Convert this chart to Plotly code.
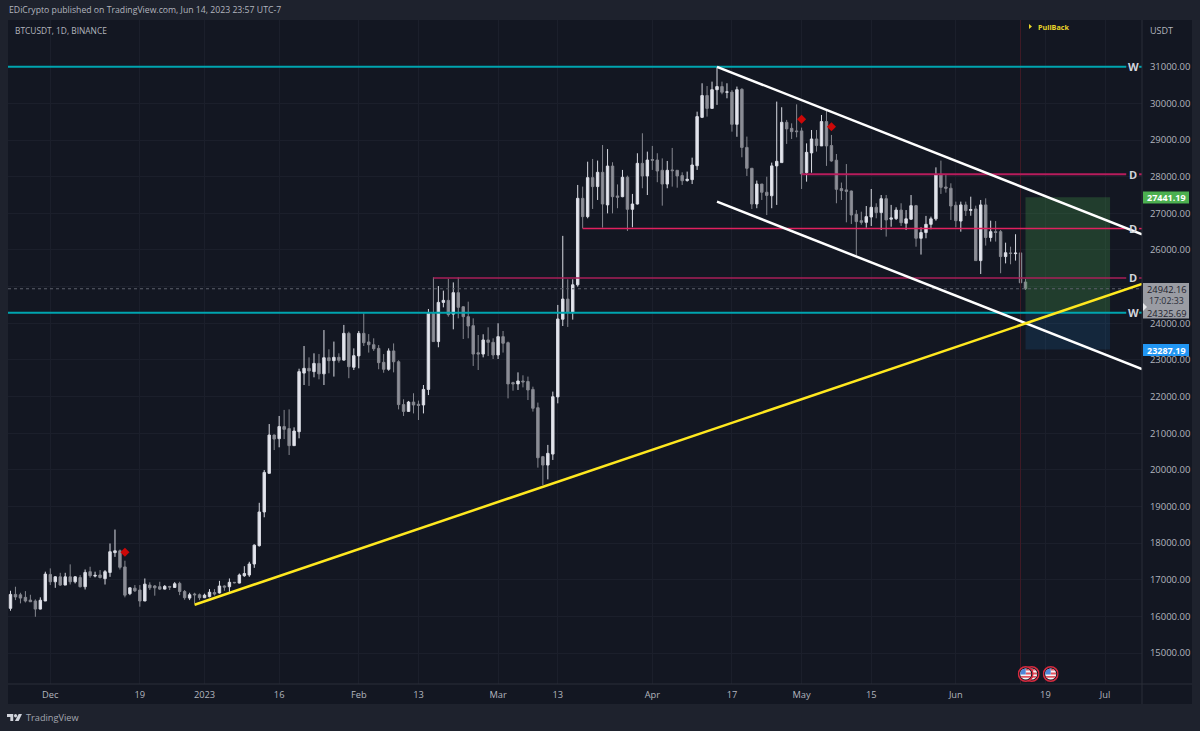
import base64
import pandas as pd
import plotly.graph_objects as go

# Daily BTCUSDT candles, 23 Nov 2022 to 15 Jun 2023, grouped Nov / Dec / Jan ... / Jun
opens = [
    16220,16600,16590,16520,16445,16420,16200,16420,
    17145,16945,17080,16855,17080,16945,17060,16810,17220,17100,17130,17030,17200,17740,17790,17350,16620,16770,16720,16420,16855,16830,16810,16745,16815,16790,16900,16680,16500,16610,16590,
    16510,16540,16650,16640,16830,16810,16930,16910,17110,17130,17430,17930,18850,19905,20950,20850,21180,21125,20660,21040,22640,22770,22680,22905,22620,23060,22980,23070,22995,23725,22800,
    23110,23725,23490,23415,23315,22935,22745,23245,22950,21780,21595,21850,21790,21770,22195,24270,23500,24570,24625,24250,24835,24450,24180,23935,23195,23160,23545,23480,
    23135,23635,23470,22380,22345,22425,22410,22195,21695,20360,20130,20430,21990,24110,24660,24290,25050,27410,26910,27975,27730,28120,27230,28290,27475,27455,27985,27110,27255,28365,28020,
    28470,28455,28175,27800,28185,28175,28030,27895,27920,28300,29620,30215,29865,30375,30460,30305,30310,29430,30385,28800,28230,27255,27800,27575,27480,28295,28385,29485,29320,29250,
    29250,28110,28650,29030,28840,29505,28850,28450,27675,27640,27610,26975,26800,26755,26900,27165,27020,27400,26840,26855,27090,26730,26840,27210,26320,26475,26700,26850,28065,27720,27685,
    27220,26790,27230,27080,27120,25710,27230,26340,26500,26500,25820,25920,25900,25920,25125,
]
highs = [
    16700,16810,16645,16690,16590,16465,16520,17220,
    17310,17100,17190,17190,17420,17100,17125,17280,17355,17220,17265,17265,17990,18370,17825,17520,16790,16855,16855,17035,16930,16855,16945,16855,16835,16935,16945,16720,16645,16645,16625,
    16620,16745,16745,16970,16845,17035,16935,17170,17370,17490,17965,19100,19995,21250,20960,21470,21635,21650,21160,22760,23380,23070,23180,23160,23815,23290,23500,23180,23955,23770,23315,
    23790,24270,23705,23590,23405,23160,23315,23450,22990,21925,21880,22090,21890,22315,24390,25255,25015,24890,25210,25115,25255,24470,24590,24135,23680,23700,23890,23590,
    24000,23790,23500,22405,22660,22580,22545,22270,21835,20380,20680,22135,24500,26385,25200,25200,27775,27730,28410,28485,28440,28865,28755,28395,27790,28185,28030,27530,28640,29185,28685,
    28840,28640,28500,28430,28785,28180,28120,28140,28520,29775,30550,30475,30595,30985,30595,30550,30365,30460,30415,29095,28230,27895,27800,28000,28385,30050,29895,29550,29457,29975,
    29340,28910,29275,29275,29685,29800,29140,28620,27840,28345,27620,27090,27045,27200,27665,27275,27500,27500,27230,27165,27275,27090,27500,27230,26620,26930,26910,28255,28440,28045,27820,
    27320,27320,27320,27455,27210,27365,27410,26800,26790,26545,26200,26090,26430,26110,25210,
]
lows = [
    16155,16445,16355,16380,16400,15990,16190,16420,
    16855,16780,16835,16855,16870,16900,16790,16735,17055,17065,17035,16870,17080,17625,17280,16520,16580,16665,16265,16420,16720,16565,16720,16735,16720,16775,16580,16455,16445,16355,16445,
    16500,16520,16570,16625,16700,16670,16900,16900,17080,17080,17325,17905,18705,19905,20540,20615,20840,20405,20660,20860,22315,22290,22525,22470,22315,22635,22545,22925,22980,22500,22725,
    22770,23380,23200,23245,22745,22650,22705,22660,21650,21470,21590,21540,21360,21540,22040,23500,23345,24435,24180,23835,24135,23570,23590,22835,22725,23070,23105,23025,
    23025,23200,21950,22160,22180,22250,21905,21590,20060,19585,19740,20270,21815,23925,23900,24100,25000,26590,26865,27120,27365,26610,27000,27000,27140,27440,26520,26620,27240,27685,27500,
    28185,27850,27210,27685,27730,27700,27775,27865,27800,28185,29600,29640,29865,29960,30250,30140,29230,29090,28530,28020,27120,27140,27365,26955,27140,27230,28385,28895,29030,29075,
    27665,27865,28110,28685,28840,28295,28410,27275,27365,26755,26710,25845,26690,26610,26655,26865,26545,26365,26635,26820,26655,26545,26820,26090,25875,26320,26565,26800,27530,27565,26820,
    26620,26500,26930,26935,25700,25345,26120,26230,26230,25365,25635,25610,25710,24820,24910,
]
closes = [
    16600,16530,16500,16420,16400,16200,16440,17155,
    16945,17080,16855,17080,16945,17080,16810,17200,17110,17120,17060,17220,17765,17790,17340,16580,16780,16700,16420,16880,16780,16780,16745,16820,16800,16890,16680,16510,16590,16590,16510,
    16580,16660,16610,16830,16800,16930,16920,17130,17170,17430,17945,18850,19930,20950,20840,21180,21105,20660,21060,22680,22770,22700,22905,22620,23060,22980,23070,22990,23725,22815,23115,
    23725,23470,23415,23305,22925,22745,23245,22950,21780,21595,21850,21770,21760,22195,24270,23500,24570,24625,24235,24835,24435,24180,23925,23160,23160,23545,23480,23135,
    23635,23455,22345,22345,22425,22400,22180,21680,20330,20130,20450,21995,24117,24660,24300,25050,27410,26910,27975,27730,28120,27255,28290,27455,27440,27985,27110,27255,28365,28020,28455,
    28450,28155,27800,28175,28165,28020,27890,27930,28320,29640,30215,29865,30375,30460,30305,30315,29430,30375,28800,28230,27255,27800,27575,27490,28295,28420,29485,29305,29230,29230,
    28075,28665,29030,28850,29505,28840,28430,27655,27620,27600,26955,26775,26755,26910,27165,27020,27400,26820,26875,27090,26745,26850,27210,26320,26475,26700,26850,28065,27710,27685,27200,
    26800,27230,27075,27105,25710,27230,26340,26500,26480,25820,25925,25905,25915,25105,24942.16,
]
dates = pd.date_range("2022-11-23", periods=len(closes), freq="D")

# Axis ticks; the 25000 label sits behind the live-price tag, so it carries no text
price_ticks = list(range(15000, 31001, 1000))
price_tick_text = ["" if p == 25000 else f"{p:.2f}" for p in price_ticks]
time_tick_dates = ["2022-12-01", "2022-12-19", "2023-01-01", "2023-01-16", "2023-02-01", "2023-02-13",
                   "2023-03-01", "2023-03-13", "2023-04-01", "2023-04-17", "2023-05-01", "2023-05-15",
                   "2023-06-01", "2023-06-19", "2023-07-01"]
time_tick_text = ["Dec", "19", "2023", "16", "Feb", "13", "Mar", "13", "Apr", "17", "May", "15", "Jun", "19", "Jul"]

# Drawn levels: (start date, price, label, colour, width)
view_start = "2022-11-22 12:00"
view_end = "2023-07-08 10:00"
label_gap = ("2023-07-05 06:00", "2023-07-07 20:00")
weekly_levels = [(view_start, 31000, "W", "#00a5af", 2), (view_start, 24290, "W", "#00a5af", 2)]
daily_levels = [("2023-05-01", 28066, "D", "#b71c5c", 2),
                ("2023-03-18", 26584, "D", "#e0215f", 1.5),
                ("2023-02-16", 25236, "D", "#a81f58", 1.5)]

# Channel and trend lines
channel_upper_dates = ["2023-04-14", view_end]
channel_upper_prices = [31000, 26428]
channel_lower_dates = ["2023-04-14", view_end]
channel_lower_prices = [27318, 22752]
trend_dates = ["2022-12-30", view_end]
trend_prices = [16319, 25072]

# Position tool
position_dates = ["2023-06-15", "2023-07-02"]
target_price = 27441.19
entry_price = 24290
stop_price = 23287.19
last_price = 24942.16
level_price = 24325.69
countdown = "17:02:33"

# Signal diamonds and the marked session
signal_dates = ["2022-12-16", "2023-05-01", "2023-05-07"]
signal_prices = [17749, 29567, 29365]
event_date = "2023-06-14"

# Canvas geometry in pixels
WIDTH, HEIGHT = 1200, 731
LEFT, RIGHT, TOP, BOTTOM = 8, 1142, 20, 684
PANEL_RIGHT, PANEL_BOTTOM = 1192, 704
FONT = "Open Sans"
PAGE = "#1e222d"
PANEL = "#131722"
BORDER = "#2a2e39"
GRID = "#1b1f2b"
MUTED = "#b2b5be"


def px(x):
    return (x - LEFT) / (RIGHT - LEFT)


def py(y):
    return (BOTTOM - y) / (BOTTOM - TOP)


fig = go.Figure()

fig.add_trace(go.Candlestick(
    x=dates, open=opens, high=highs, low=lows, close=closes,
    increasing=dict(line=dict(color="#d8dae2", width=1), fillcolor="#e4e6ee"),
    decreasing=dict(line=dict(color="#85878f", width=1), fillcolor="#8d8f98"),
    whiskerwidth=0, hoverinfo="skip", showlegend=False,
))


def add_line(x, y, color, width, dash="solid"):
    fig.add_trace(go.Scatter(x=x, y=y, mode="lines", hoverinfo="skip", showlegend=False,
                             line=dict(color=color, width=width, dash=dash)))


def add_zone(top, bottom, fill):
    fig.add_trace(go.Scatter(
        x=[position_dates[0], position_dates[1], position_dates[1], position_dates[0], position_dates[0]],
        y=[top, top, bottom, bottom, top],
        mode="lines", fill="toself", fillcolor=fill, line=dict(width=0),
        hoverinfo="skip", showlegend=False))


add_line([event_date, event_date], [14155, 32277], "#3f1a25", 1)
add_zone(target_price, entry_price, "rgba(76,175,80,0.25)")
add_zone(entry_price, stop_price, "rgba(33,150,243,0.13)")
add_line([view_start, view_end], [last_price, last_price], "#5d606b", 1, "dot")

annotations = []
for start, price, label, color, width in weekly_levels + daily_levels:
    add_line([start, label_gap[0]], [price, price], color, width)
    add_line([label_gap[1], view_end], [price, price], color, width)
    annotations.append(dict(x=px(1133), y=price, xref="paper", yref="y", xanchor="center", yanchor="middle",
                            text=f"<b>{label}</b>", showarrow=False,
                            font=dict(family=FONT, size=11, color="#d1d4dc")))

add_line(channel_upper_dates, channel_upper_prices, "#ffffff", 2.5)
add_line(channel_lower_dates, channel_lower_prices, "#ffffff", 2.5)
add_line(trend_dates, trend_prices, "#ffe81f", 2.5)

fig.add_trace(go.Scatter(x=signal_dates, y=signal_prices, mode="markers", hoverinfo="skip", showlegend=False,
                         marker=dict(symbol="diamond", size=7, color="#cc0808")))


def add_text(text, x, y, size, color, anchor="left", bold=False):
    annotations.append(dict(x=px(x), y=py(y), xref="paper", yref="paper", xanchor=anchor, yanchor="middle",
                            text=f"<b>{text}</b>" if bold else text, showarrow=False,
                            font=dict(family=FONT, size=size, color=color)))


def rect(x0, x1, y0, y1, fill, layer="above", line=None):
    return dict(type="rect", xref="paper", yref="paper", x0=px(x0), x1=px(x1), y0=py(y0), y1=py(y1),
                fillcolor=fill, line=dict(width=1 if line else 0, color=line or fill), layer=layer)


def segment(x0, y0, x1, y1):
    return dict(type="line", xref="paper", yref="paper", x0=px(x0), x1=px(x1), y0=py(y0), y1=py(y1),
                line=dict(color=BORDER, width=1), layer="above")


shapes = [
    rect(LEFT, PANEL_RIGHT, TOP, PANEL_BOTTOM, PANEL, layer="below"),
    segment(RIGHT, TOP, RIGHT, PANEL_BOTTOM),
    segment(LEFT, BOTTOM, PANEL_RIGHT, BOTTOM),
    rect(1143, 1189, 191.5, 203.5, "#4caf50"),
    rect(1143, 1189, 344, 356, "#2196f3"),
    rect(1143, 1189, 283, 318.5, "#9a9ca3"),
    dict(type="path", xref="paper", yref="paper", layer="above", fillcolor="#e6e7ea", line=dict(width=0),
         path=f"M {px(1143)} {py(303)} L {px(1147)} {py(307)} L {px(1143)} {py(311)} Z"),
    dict(type="path", xref="paper", yref="paper", layer="above", fillcolor="#e8d52a", line=dict(width=0),
         path=f"M {px(1029)} {py(24)} L {px(1032)} {py(26.5)} L {px(1029)} {py(29)} Z"),
]

add_text("EDiCrypto published on TradingView.com, Jun 14, 2023 23:57 UTC-7", 6.5, 10.5, 8.7, MUTED)
add_text("BTCUSDT, 1D, BINANCE", 12.5, 30.5, 8.4, MUTED)
add_text("USDT", 1148, 30.5, 9, MUTED)
add_text("PullBack", 1035.5, 26.5, 7.2, "#e8d52a", bold=True)
add_text("27441.19", 1166.5, 197.5, 9, "#ffffff", anchor="center", bold=True)
add_text("23287.19", 1166.5, 350, 9, "#ffffff", anchor="center", bold=True)
add_text(f"{last_price:.2f}", 1166.5, 289.5, 9.3, "#1e222d", anchor="center")
add_text(countdown, 1166, 300.5, 8.8, "#2a2e39", anchor="center")
add_text(f"{level_price:.2f}", 1166.5, 313, 9.3, "#1e222d", anchor="center")
add_text("TradingView", 24, 717.5, 9.2, "#a3a6af")


def svg_uri(svg):
    return "data:image/svg+xml;base64," + base64.b64encode(svg.encode()).decode()


flag_svg = svg_uri(
    '<svg xmlns="http://www.w3.org/2000/svg" viewBox="0 0 32 32">'
    '<defs><clipPath id="c"><circle cx="16" cy="16" r="11"/></clipPath></defs>'
    '<circle cx="16" cy="16" r="14.5" fill="#131722" stroke="#d52b3f" stroke-width="3"/>'
    '<g clip-path="url(#c)"><rect width="32" height="32" fill="#f2f3f6"/>'
    '<rect x="16" y="5" width="12" height="4" fill="#e2545f"/>'
    '<rect x="16" y="13" width="12" height="4" fill="#e2545f"/>'
    '<rect x="4" y="20" width="24" height="3.5" fill="#e2545f"/>'
    '<rect x="4" y="4" width="12" height="13" fill="#4f86d8"/></g></svg>')
logo_svg = svg_uri(
    '<svg xmlns="http://www.w3.org/2000/svg" viewBox="0 0 36 20">'
    '<path fill="#d1d4dc" d="M0 2h15v16H8V9H0z"/>'
    '<path fill="#d1d4dc" d="M28 2h8l-8 16h-9z"/><circle fill="#d1d4dc" cx="20.5" cy="6" r="3.8"/></svg>')


def image(source, cx, cy, w, h):
    return dict(source=source, xref="paper", yref="paper", x=px(cx), y=py(cy), xanchor="center", yanchor="middle",
                sizex=w / (RIGHT - LEFT), sizey=h / (BOTTOM - TOP), sizing="stretch", layer="above")


images = [
    image(flag_svg, 1031.7, 674, 16, 16),
    image(flag_svg, 1025.7, 674, 16, 16),
    image(flag_svg, 1050.7, 674, 16, 16),
    image(logo_svg, 14.5, 717.5, 15, 9),
]

fig.update_layout(
    width=WIDTH, height=HEIGHT, paper_bgcolor=PAGE, plot_bgcolor=PANEL,
    margin=dict(l=LEFT, r=WIDTH - RIGHT, t=TOP, b=HEIGHT - BOTTOM, pad=0, autoexpand=False),
    showlegend=False, hovermode=False, dragmode=False,
    shapes=shapes, annotations=annotations, images=images,
    xaxis=dict(type="date", range=[view_start, view_end], rangeslider=dict(visible=False), automargin=False,
               tickmode="array", tickvals=time_tick_dates, ticktext=time_tick_text, tickangle=0,
               showgrid=True, gridcolor=GRID, gridwidth=1, zeroline=False, showline=False,
               ticks="outside", ticklen=2, tickcolor="rgba(0,0,0,0)",
               tickfont=dict(family=FONT, size=9.3, color=MUTED)),
    yaxis=dict(side="right", range=[14155, 32277], tickmode="array", tickvals=price_ticks, automargin=False,
               ticktext=price_tick_text,
               showgrid=True, gridcolor=GRID, gridwidth=1, zeroline=False, showline=False,
               ticks="outside", ticklen=5, tickcolor="rgba(0,0,0,0)",
               tickfont=dict(family=FONT, size=9.5, color=MUTED)),
)

fig.write_html("out.html", config=dict(displayModeBar=False, responsive=False))
